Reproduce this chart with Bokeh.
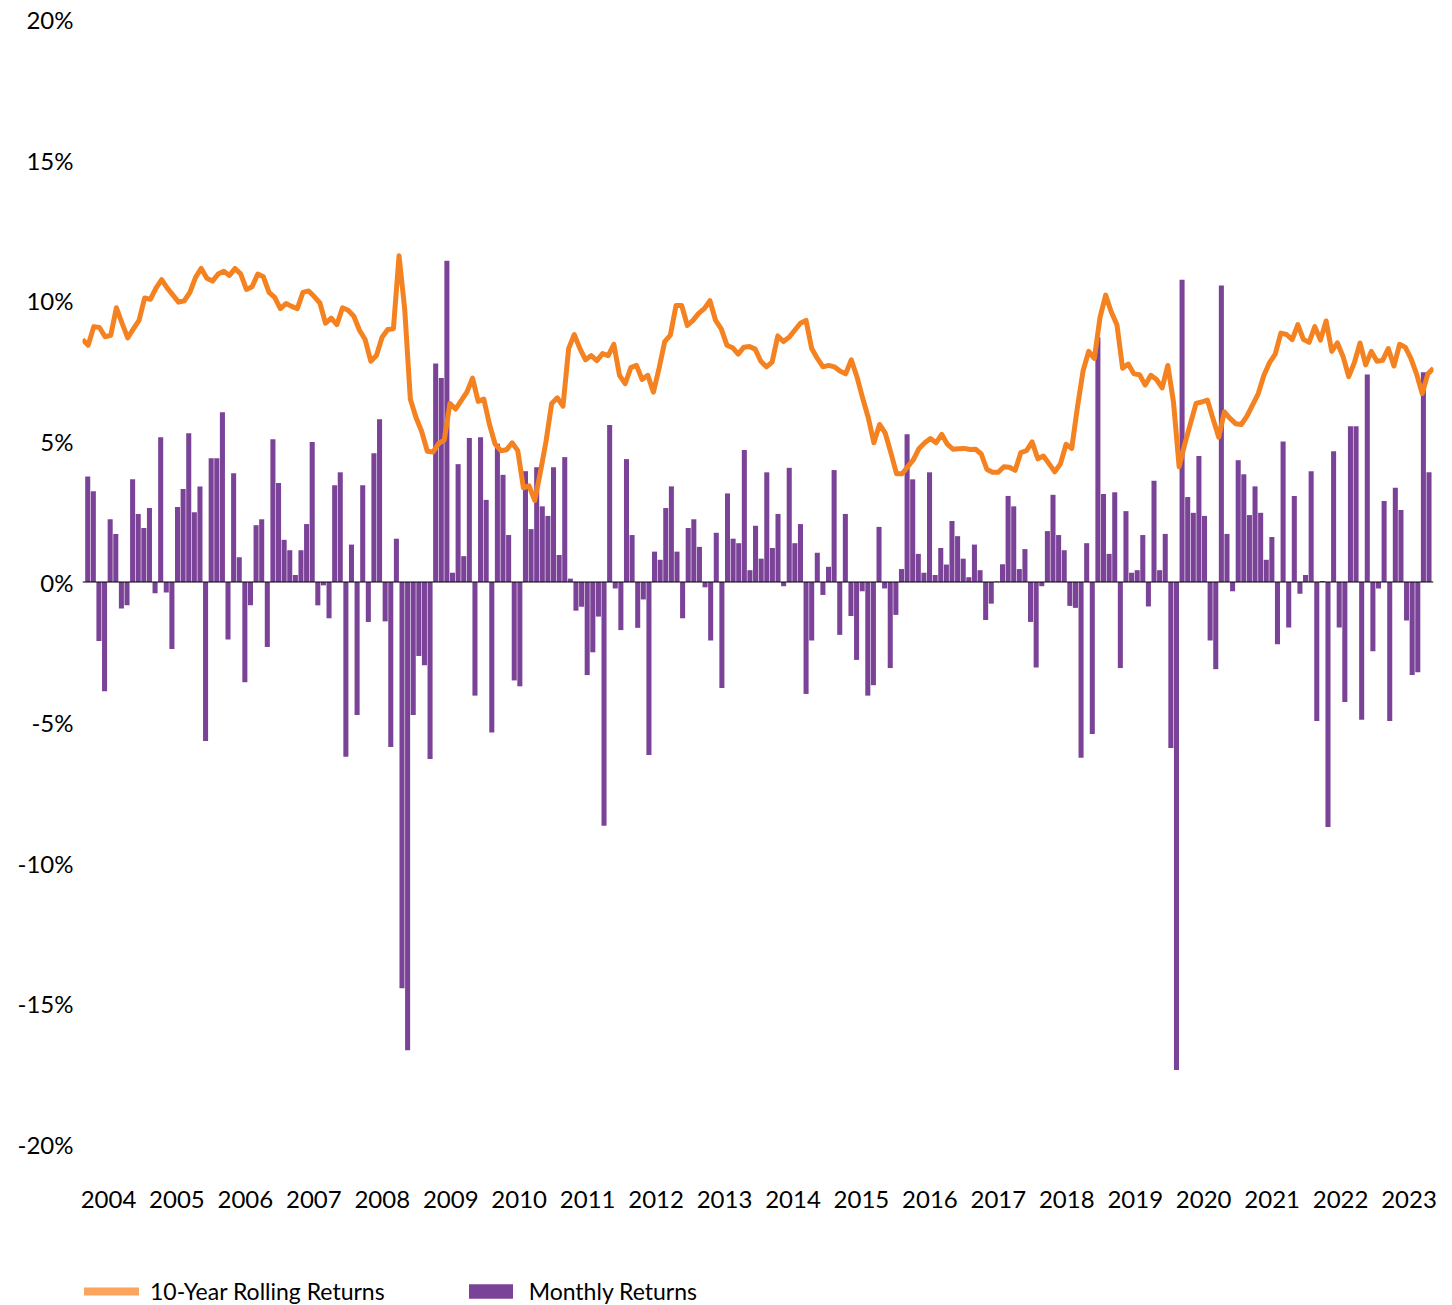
import numpy as np
from bokeh.plotting import figure
from bokeh.layouts import column
from bokeh.models import Range1d, FixedTicker, Span, Legend, LegendItem
from bokeh.embed import file_html
from bokeh.resources import INLINE

# ---------------- data ----------------
years = [str(y) for y in range(2004, 2024)]

monthly_returns = [
    # 2004-01 .. 2006-06
    3.75, 3.23, -2.10, -3.88, 2.23, 1.71, -0.94, -0.83, 3.65, 2.42, 1.92, 2.63,
    -0.40, 5.15, -0.37, -2.38, 2.67, 3.31, 5.29, 2.48, 3.40, -5.65, 4.40, 4.40,
    6.04, -2.04, 3.87, 0.88, -3.56, -0.83,
    # 2006-07 .. 2008-12
    2.02, 2.23, -2.31, 5.08, 3.52, 1.50, 1.13, 0.25, 1.13, 2.06, 4.98, -0.83,
    -0.12, -1.29, 3.44, 3.90, -6.21, 1.33, -4.73, 3.44, -1.42, 4.58, 5.79, -1.40,
    -5.87, 1.54, -14.44, -16.65, -4.73, -2.63,
    # 2009-01 .. 2011-07
    -2.96, -6.29, 7.77, 7.25, 11.42, 0.33, 4.19, 0.92, 5.12, -4.04, 5.15, 2.92,
    -5.35, 4.92, 3.81, 1.67, -3.50, -3.71, 3.94, 1.88, 4.08, 2.69, 2.35, 4.08,
    0.96, 4.44, 0.12, -1.02, -0.88, -3.31, -2.50,
    # 2011-08 .. 2014-01
    -1.23, -8.67, 5.58, -0.23, -1.71, 4.37, 1.67, -1.63, -0.62, -6.15,
    1.08, 0.79, 2.63, 3.40, 1.08, -1.29, 1.92, 2.23, 1.25, -0.19,
    -2.08, 1.75, -3.77, 3.15, 1.54, 1.38, 4.69, 0.42, 2.00, 0.83,
    # 2014-02 .. 2016-07
    3.90, 1.21, 2.42, -0.15, 4.06, 1.38, 2.06, -3.98, -2.08, 1.04,
    -0.46, 0.54, 3.98, -1.88, 2.42, -1.21, -2.77, -0.33, -4.04, -3.67,
    1.96, -0.23, -3.06, -1.17, 0.46, 5.25, 3.65, 1.00, 0.33, 3.90,
    # 2016-08 .. 2019-01
    0.25, 1.21, 0.62, 2.17, 1.63, 0.83, 0.17, 1.33, 0.42, -1.35,
    -0.77, 0.02, 0.63, 3.06, 2.69, 0.46, 1.17, -1.42, -3.04, -0.15,
    1.81, 3.10, 1.67, 1.13, -0.85, -0.92, -6.25, 1.38, -5.40, 8.70,
    # 2019-02 .. 2021-07
    3.13, 1.00, 3.19, -3.06, 2.52, 0.33, 0.42, 1.67, -0.87, 3.60,
    0.42, 1.71, -5.90, -17.35, 10.75, 3.02, 2.46, 4.48, 2.35, -2.08,
    -3.10, 10.54, 1.71, -0.33, 4.33, 3.83, 2.38, 3.40, 2.46, 0.79,
    # 2021-08 .. 2023-12
    1.60, -2.21, 5.00, -1.62, 3.06, -0.42, 0.25, 3.94, -4.94, 0.04,
    -8.71, 4.65, -1.62, -4.27, 5.54, 5.54, -4.90, 7.38, -2.46, -0.23,
    2.88, -4.94, 3.35, 2.56, -1.37, -3.31, -3.21, 7.46, 3.90,
]

rolling_10y = [
    8.62, 8.42, 9.08, 9.05, 8.72, 8.77, 9.75, 9.20, 8.68, 9.00,
    9.30, 10.10, 10.05, 10.45, 10.75, 10.45, 10.20, 9.95, 10.00, 10.30,
    10.83, 11.15, 10.80, 10.70, 10.95, 11.05, 10.90, 11.15, 10.95, 10.40,
    10.50, 10.95, 10.85, 10.30, 10.12, 9.72, 9.90, 9.80, 9.72, 10.30,
    10.35, 10.15, 9.92, 9.20, 9.38, 9.15, 9.75, 9.66, 9.45, 8.95,
    8.62, 7.85, 8.05, 8.70, 8.98, 9.00, 11.60, 9.70, 6.50, 5.85,
    5.35, 4.65, 4.62, 4.92, 5.05, 6.35, 6.15, 6.45, 6.75, 7.25,
    6.42, 6.50, 5.60, 4.90, 4.67, 4.70, 4.95, 4.67, 3.35, 3.42,
    2.90, 3.90, 5.00, 6.35, 6.55, 6.25, 8.30, 8.80, 8.30, 7.90, 8.05,
    7.87, 8.12, 8.05, 8.45, 7.35, 7.05, 7.62, 7.70, 7.20, 7.35,
    6.75, 7.60, 8.55, 8.78, 9.83, 9.83, 9.12, 9.30, 9.55, 9.72,
    10.00, 9.30, 9.00, 8.42, 8.33, 8.10, 8.35, 8.37, 8.28, 7.85,
    7.65, 7.82, 8.75, 8.55, 8.70, 8.95, 9.20, 9.30, 8.30, 7.95,
    7.65, 7.70, 7.65, 7.50, 7.40, 7.90, 7.30, 6.55, 5.85, 4.95,
    5.60, 5.30, 4.60, 3.85, 3.85, 4.10, 4.35, 4.75, 4.95, 5.10,
    4.95, 5.25, 4.90, 4.72, 4.74, 4.75, 4.71, 4.72, 4.55, 4.00,
    3.90, 3.90, 4.10, 4.08, 3.97, 4.60, 4.67, 4.98, 4.38, 4.48,
    4.20, 3.92, 4.20, 4.90, 4.75, 6.20, 7.50, 8.20, 7.95, 9.40,
    10.20, 9.60, 9.15, 7.60, 7.75, 7.40, 7.37, 7.00, 7.35, 7.20,
    6.90, 7.70, 6.40, 4.10, 4.90, 5.63, 6.35, 6.40, 6.47, 5.80,
    5.15, 6.05, 5.82, 5.63, 5.60, 5.90, 6.30, 6.70, 7.35, 7.80,
    8.10, 8.85, 8.80, 8.62, 9.15, 8.62, 8.52, 9.08, 8.60, 9.28,
    8.20, 8.50, 8.02, 7.30, 7.80, 8.50, 7.72, 8.20, 7.85, 7.88,
    8.30, 7.68, 8.45, 8.35, 7.95, 7.40, 6.70, 7.40, 7.60,
]

y_ticks = [-20, -15, -10, -5, 0, 5, 10, 15, 20]

# ---------------- style ----------------
FONT = "Lato"
BAR_COLOR = "#7B4397"
LINE_COLOR = "#F58220"
LEGEND_LINE_COLOR = "#FBA45E"
TEXT_COLOR = "#000000"

n = len(monthly_returns)
xs = list(range(n))
X_LO, X_HI = -0.93, n - 0.2
line_x = np.linspace(X_LO, X_HI, len(rolling_10y))

W = 1450
p = figure(width=W, height=1250,
           x_range=Range1d(X_LO, X_HI), y_range=Range1d(-20, 20),
           output_backend="svg", toolbar_location=None,
           min_border_left=82, min_border_right=17,
           min_border_top=19, min_border_bottom=106)
p.outline_line_color = None
p.background_fill_color = "white"
p.border_fill_color = "white"
p.grid.visible = False

bars = p.vbar(x=xs, top=monthly_returns, bottom=0, width=0.9,
              fill_color=BAR_COLOR, line_color=None)

p.add_layout(Span(location=0, dimension="width", line_color="black", line_width=1))

p.line(line_x, rolling_10y, line_color=LINE_COLOR, line_width=5, line_join="round")

# axes
p.yaxis.ticker = FixedTicker(ticks=y_ticks)
p.yaxis.major_label_overrides = {t: f"{t}%" for t in y_ticks}
p.yaxis.major_label_standoff = 9

year_pos = [round(3.70 + 12.197 * k, 3) for k in range(len(years))]
p.xaxis.ticker = FixedTicker(ticks=year_pos)
p.xaxis.major_label_overrides = {pos: yr for pos, yr in zip(year_pos, years)}
p.xaxis.major_label_standoff = 46

for ax in (p.xaxis[0], p.yaxis[0]):
    ax.axis_line_color = None
    ax.major_tick_line_color = None
    ax.minor_tick_line_color = None
    ax.major_tick_out = 0
    ax.major_tick_in = 0
    ax.minor_tick_out = 0
    ax.major_label_text_font = FONT
    ax.major_label_text_font_size = "24px"
    ax.major_label_text_color = TEXT_COLOR

# ---------------- legend strip ----------------
leg = figure(width=W, height=55, x_range=Range1d(0, 1), y_range=Range1d(0, 1),
             output_backend="svg", toolbar_location=None,
             x_axis_location=None, y_axis_location=None,
             min_border=0)
leg.outline_line_color = None
leg.grid.visible = False
leg.background_fill_color = "white"
leg.border_fill_color = "white"

# legend proxies: one sample each, placed outside the strip's visible range
leg_line = leg.line(x=[-5, -4], y=[-5, -5], line_color=LEGEND_LINE_COLOR,
                    line_width=8, line_cap="round")
leg_bar = leg.vbar(x=[-5], top=[-4], bottom=[-5], width=0.9,
                   fill_color=BAR_COLOR, line_color=None)

legend = Legend(items=[LegendItem(label="10-Year Rolling Returns", renderers=[leg_line]),
                       LegendItem(label="Monthly Returns", renderers=[leg_bar])],
                location=(2, 0), orientation="horizontal",
                glyph_width=55, glyph_height=18, label_standoff=11,
                padding=0, margin=0, spacing=78,
                border_line_color=None, background_fill_alpha=0,
                label_text_font=FONT, label_text_font_size="23px",
                label_text_color=TEXT_COLOR)
leg.add_layout(legend)

layout = column(p, leg, spacing=0)
open("out.html", "w").write(file_html(layout, INLINE))
